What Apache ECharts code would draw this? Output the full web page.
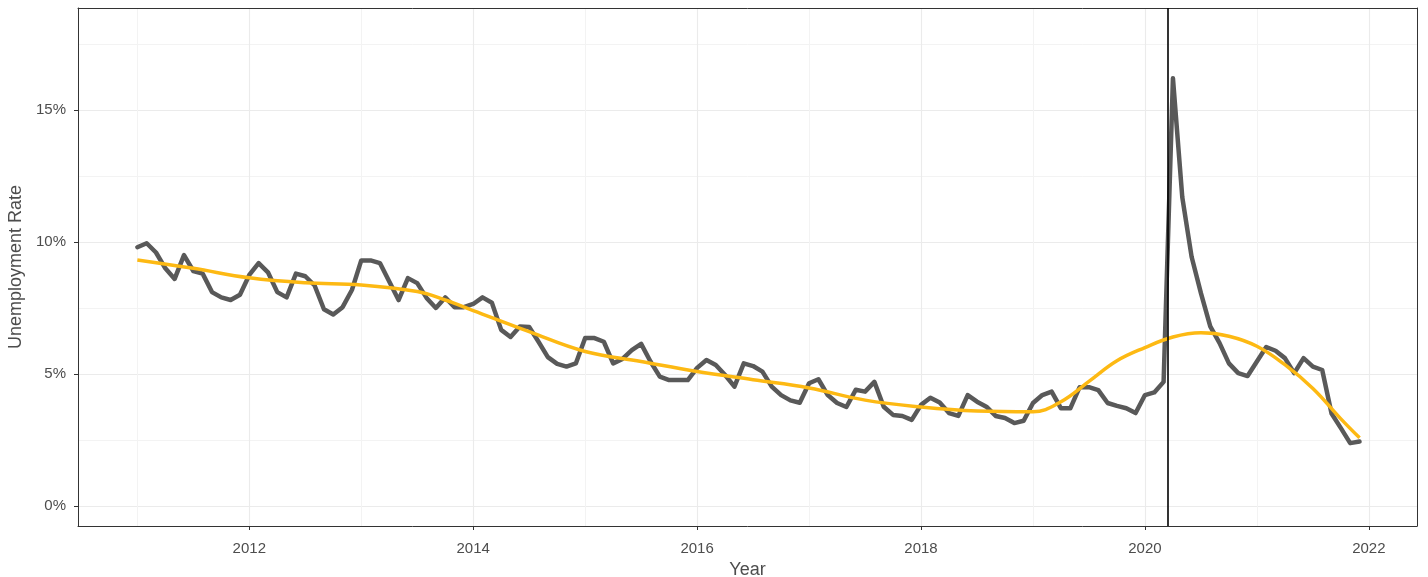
<!DOCTYPE html>
<html>
<head>
<meta charset="utf-8">
<title>Unemployment Rate</title>
<script src="https://cdn.jsdelivr.net/npm/echarts@6/dist/echarts.min.js"></script>
<style>
  html, body { margin: 0; padding: 0; background: #fff; }
  #chart { width: 1428px; height: 577px; }
</style>
</head>
<body>
<div id="chart"></div>
<script>
// monthly rate, Jan 2011 .. Dec 2021
var startYear = 2011;
var rate = [
  9.8, 9.95, 9.6, 9.0, 8.6, 9.5, 8.9, 8.8, 8.1, 7.9, 7.8, 8.0,
  8.75, 9.2, 8.85, 8.1, 7.9, 8.8, 8.7, 8.35, 7.45, 7.25, 7.53, 8.18,
  9.3, 9.3, 9.2, 8.5, 7.8, 8.63, 8.44, 7.88, 7.5, 7.9, 7.53, 7.53,
  7.65, 7.9, 7.7, 6.67, 6.4, 6.8, 6.78, 6.22, 5.64, 5.38, 5.28, 5.4,
  6.36, 6.36, 6.22, 5.4, 5.57, 5.9, 6.14, 5.47, 4.9, 4.77, 4.77, 4.77,
  5.23, 5.53, 5.34, 4.96, 4.52, 5.4, 5.3, 5.09, 4.52, 4.2, 4.0, 3.91,
  4.65, 4.8, 4.2, 3.9, 3.75, 4.4, 4.33, 4.7, 3.76, 3.45, 3.41, 3.26,
  3.83, 4.1, 3.92, 3.52, 3.41, 4.2, 3.95, 3.76, 3.41, 3.33, 3.14, 3.23,
  3.9, 4.2, 4.33, 3.7, 3.7, 4.5, 4.5, 4.39, 3.9, 3.79, 3.7, 3.52,
  4.2, 4.3, 4.7, 16.2, 11.7, 9.44, 8.06, 6.8, 6.17, 5.4, 5.03, 4.92,
  5.47, 6.02, 5.88, 5.6, 5.03, 5.6, 5.28, 5.15, 3.5, 2.95, 2.38, 2.44
];

// smoothed trend
var trendX = [2011.0, 2011.5, 2012.0, 2012.5, 2013.0, 2013.5, 2013.75, 2014.0, 2014.5, 2015.0,
              2015.5, 2016.0, 2016.5, 2017.0, 2017.5, 2018.0, 2018.5, 2019.0, 2019.25, 2019.5,
              2019.75, 2020.0, 2020.25, 2020.5, 2020.75, 2021.0, 2021.25, 2021.5, 2021.75, 2021.917];
var trendY = [9.32, 9.0, 8.64, 8.45, 8.37, 8.12, 7.8, 7.4, 6.6, 5.85,
              5.47, 5.09, 4.78, 4.47, 4.01, 3.75, 3.6, 3.57, 3.95, 4.72,
              5.5, 6.0, 6.4, 6.56, 6.43, 6.05, 5.35, 4.45, 3.3, 2.58];

var covidDate = 2020.2;

var rateData = rate.map(function (v, i) { return [startYear + i / 12, v]; });
var trendData = trendX.map(function (x, i) { return [x, trendY[i]]; });

var xMin = 2010.47, xMax = 2022.43;
var yMin = -0.758, yMax = 18.86;
var labelFont = { color: '#4d4d4d', fontSize: 15, fontFamily: 'Liberation Sans' };
var titleFont = { color: '#4d4d4d', fontSize: 18, fontFamily: 'Liberation Sans' };
var border = { show: true, onZero: false, lineStyle: { color: '#333', width: 1 } };

var chart = echarts.init(document.getElementById('chart'));

var option = {
  backgroundColor: '#fff',
  animation: false,
  grid: { left: 78, right: 11, top: 8, bottom: 51, containLabel: false, outerBoundsMode: 'none' },
  xAxis: [
    {
      type: 'value',
      min: xMin, max: xMax,
      splitNumber: 6,
      name: 'Year',
      nameLocation: 'middle',
      nameGap: 32,
      nameTextStyle: titleFont,
      axisLine: border,
      axisTick: { show: true, length: 4, lineStyle: { color: '#333', width: 1 } },
      axisLabel: Object.assign({}, labelFont, {
        margin: 15,
        showMinLabel: false, showMaxLabel: false,
        formatter: function (v) {
          var r = Math.round(v);
          return Math.abs(v - r) < 1e-6 && r % 2 === 0 ? String(r) : '';
        }
      }),
      splitLine: { show: true, lineStyle: { color: '#ebebeb', width: 1.1 } },
      minorTick: { show: false, splitNumber: 2 },
      minorSplitLine: { show: true, lineStyle: { color: '#f3f3f3', width: 1 } }
    },
    {
      type: 'value', position: 'top',
      min: xMin, max: xMax,
      axisLine: border,
      axisTick: { show: false }, axisLabel: { show: false }, splitLine: { show: false }
    }
  ],
  yAxis: [
    {
      type: 'value',
      min: yMin, max: yMax,
      splitNumber: 4,
      name: 'Unemployment Rate',
      nameLocation: 'middle',
      nameGap: 50,
      nameTextStyle: titleFont,
      axisLine: border,
      axisTick: { show: true, length: 4, lineStyle: { color: '#333', width: 1 } },
      axisLabel: Object.assign({}, labelFont, {
        margin: 12,
        showMinLabel: false, showMaxLabel: false,
        formatter: function (v) { return Math.abs(v % 5) < 1e-6 ? v + '%' : ''; }
      }),
      splitLine: { show: true, lineStyle: { color: '#ebebeb', width: 1.1 } },
      minorTick: { show: false, splitNumber: 2 },
      minorSplitLine: { show: true, lineStyle: { color: '#f3f3f3', width: 1 } }
    },
    {
      type: 'value', position: 'right',
      min: yMin, max: yMax,
      axisLine: border,
      axisTick: { show: false }, axisLabel: { show: false }, splitLine: { show: false }
    }
  ],
  series: [
    {
      name: 'Unemployment',
      type: 'line',
      data: rateData,
      showSymbol: false,
      symbol: 'none',
      lineStyle: { color: '#595959', width: 4.5, join: 'round', cap: 'round' },
      z: 2,
      markLine: {
        silent: true,
        symbol: 'none',
        label: { show: false },
        lineStyle: { color: '#000', width: 1.6, type: 'solid' },
        data: [{ xAxis: covidDate }]
      }
    },
    {
      name: 'Trend',
      type: 'line',
      data: trendData,
      smooth: 0.4,
      showSymbol: false,
      symbol: 'none',
      lineStyle: { color: '#fdb913', width: 3.5 },
      z: 3
    }
  ]
};

chart.setOption(option);
</script>
</body>
</html>
